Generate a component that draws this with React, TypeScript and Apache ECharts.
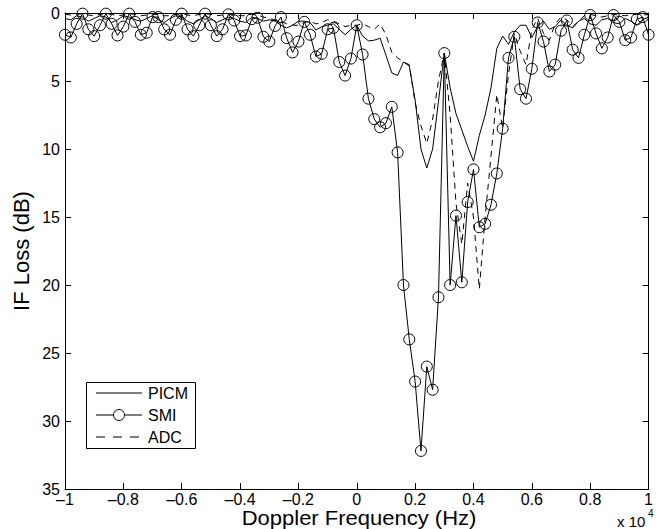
import React, { useEffect, useRef } from "react";
import * as echarts from "echarts";

const freqs = [
  -10000, -9800, -9600, -9400, -9200, -9000, -8800, -8600, -8400, -8200,
  -8000, -7800, -7600, -7400, -7200, -7000, -6800, -6600, -6400, -6200,
  -6000, -5800, -5600, -5400, -5200, -5000, -4800, -4600, -4400, -4200,
  -4000, -3800, -3600, -3400, -3200, -3000, -2800, -2600, -2400, -2200,
  -2000, -1800, -1600, -1400, -1200, -1000, -800, -600, -400, -200,
  0, 200, 400, 600, 800, 1000, 1200, 1400, 1600, 1800,
  2000, 2200, 2400, 2600, 2800, 3000, 3200, 3400, 3600, 3800,
  4000, 4200, 4400, 4600, 4800, 5000, 5200, 5400, 5600, 5800,
  6000, 6200, 6400, 6600, 6800, 7000, 7200, 7400, 7600, 7800,
  8000, 8200, 8400, 8600, 8800, 9000, 9200, 9400, 9600, 9800,
  10000,
];

const picm = [
  0.4, 0.5, 0.2, 0.3, 0.6, 0.4, 0.2, 0.3, 0.7, 0.5,
  0.2, 0.3, 0.5, 0.6, 0.4, 0.2, 0.5, 0.7, 0.4, 0.2,
  0.3, 0.6, 0.8, 0.5, 0.2, 0.4, 0.7, 0.5, 0.3, 0.4,
  0.6, 0.7, 0.3, 0.4, 0.6, 0.5, 0.6, 0.9, 1.1, 0.9,
  0.6, 0.6, 0.7, 1.25, 1.0, 0.9, 0.8, 1.2, 1.6, 1.2,
  0.9, 1.7, 2.05, 2.0, 1.85, 3.1, 4.4, 4.6, 3.6, 3.9,
  6.4, 10.0, 11.4, 10.0, 6.5, 2.95, 5.5, 7.4, 8.6, 9.8,
  10.9, 9.0, 7.5, 5.5, 2.6, 1.7, 2.3, 1.4, 0.9, 0.9,
  1.8, 1.0, 0.6, 1.2, 1.0, 0.5, 0.9, 1.1, 0.6, 0.4,
  0.8, 0.9, 0.5, 0.4, 0.7, 0.8, 0.4, 0.6, 0.9, 0.5,
  0.3,
];

const smi = [
  1.6, 1.8, 0.8, 0.05, 1.2, 1.7, 0.9, 0.05, 0.8, 1.65,
  1.0, 0.05, 0.65, 1.6, 1.45, 0.3, 0.3, 1.2, 1.6, 0.5,
  0.05, 1.2, 1.7, 0.9, 0.05, 0.9, 1.7, 1.2, 0.1, 0.55,
  1.7, 1.65, 0.45, 0.35, 1.75, 2.1, 0.95, 0.3, 1.85, 2.9,
  2.1, 0.65, 1.6, 3.2, 3.0, 1.2, 1.1, 3.6, 4.6, 3.35,
  0.9, 3.05, 6.3, 7.8, 8.4, 8.1, 6.9, 10.25, 20.0, 24.0,
  27.1, 32.2, 26.0, 27.7, 20.9, 2.95, 20.0, 14.9, 19.8, 13.9,
  11.5, 15.75, 15.5, 14.1, 11.8, 8.5, 3.3, 1.75, 5.6, 6.3,
  4.1, 0.7, 2.1, 4.3, 3.8, 1.3, 0.55, 2.7, 3.3, 1.6,
  0.15, 1.5, 2.6, 1.8, 0.15, 0.65, 2.0, 1.8, 0.45, 0.3,
  1.6,
];

const adc = [
  0.1, 0.15, 0.1, 0.05, 0.15, 0.2, 0.1, 0.05, 0.1, 0.2,
  0.15, 0.05, 0.1, 0.2, 0.15, 0.1, 0.1, 0.2, 0.2, 0.1,
  0.05, 0.15, 0.2, 0.1, 0.05, 0.1, 0.2, 0.15, 0.1, 0.1,
  0.2, 0.2, 0.1, 0.15, 0.3, 0.4, 0.5, 0.6, 0.8, 0.9,
  0.9, 0.7, 0.6, 0.8, 0.7, 0.5, 0.6, 0.8, 1.0, 0.9,
  0.9, 0.8, 1.0, 1.2, 0.8, 1.6, 2.9, 3.3, 3.6, 3.8,
  6.6, 8.3, 9.6, 7.8, 5.0, 2.95, 7.5, 14.0, 17.0, 12.5,
  15.0, 20.3, 15.0, 10.5, 6.0, 8.5, 4.5, 1.5, 2.8, 3.8,
  1.2, 0.4, 1.5, 2.0, 0.8, 0.3, 0.5, 1.0, 0.6, 0.2,
  0.1, 0.2, 0.3, 0.2, 0.1, 0.15, 0.2, 0.1, 0.1, 0.15,
  0.1,
];

const seriesNames = ["PICM", "SMI", "ADC"];
const xTitle = "Doppler Frequency (Hz)";
const yTitle = "IF Loss (dB)";

const FONT = "'Liberation Sans', Arial, Helvetica, sans-serif";
const PLOT_DASH = [6, 5];
const LEGEND_DASH = [9, 8];

function fmtX(v: number): string {
  if (v === 0) return "0";
  const s = String(Math.round((Math.abs(v) / 10000) * 10) / 10);
  return (v < 0 ? "\u2013" : "") + s;
}

export default function App() {
  const ref = useRef<HTMLDivElement>(null);
  useEffect(() => {
    const chart = echarts.init(ref.current!, null, { renderer: "svg" });
    const pairs = (arr: number[]) => freqs.map((f, i) => [f, arr[i]]);
    const xBase = {
      type: "value",
      min: -10000,
      max: 10000,
      interval: 2000,
      splitLine: { show: false },
      axisLine: { show: true, onZero: false, lineStyle: { color: "#000", width: 1 } },
      axisTick: { show: true, inside: true, length: 6, lineStyle: { color: "#000" } },
    };
    const yBase = {
      type: "value",
      inverse: true,
      min: 0,
      max: 35,
      interval: 5,
      splitLine: { show: false },
      axisLine: { show: true, onZero: false, lineStyle: { color: "#000", width: 1 } },
      axisTick: { show: true, inside: true, length: 6, lineStyle: { color: "#000" } },
    };

    const lx0 = 96;
    const lx1 = 142;
    const rows = [393, 415, 437];
    const legendItems: any[] = [
      {
        type: "rect",
        shape: { x: 86.5, y: 382.5, width: 109, height: 66 },
        style: { fill: "#fff", stroke: "#000", lineWidth: 1 },
      },
      {
        type: "line",
        shape: { x1: lx0, y1: rows[0], x2: lx1, y2: rows[0] },
        style: { stroke: "#000", lineWidth: 1 },
      },
      {
        type: "line",
        shape: { x1: lx0, y1: rows[1], x2: lx1, y2: rows[1] },
        style: { stroke: "#000", lineWidth: 1 },
      },
      {
        type: "circle",
        shape: { cx: (lx0 + lx1) / 2, cy: rows[1], r: 5.5 },
        style: { fill: "#fff", stroke: "#000", lineWidth: 1 },
      },
      {
        type: "line",
        shape: { x1: lx0, y1: rows[2], x2: lx1, y2: rows[2] },
        style: { stroke: "#000", lineWidth: 1, lineDash: LEGEND_DASH },
      },
    ];
    seriesNames.forEach((n, i) => {
      legendItems.push({
        type: "text",
        x: 148,
        y: rows[i],
        style: {
          text: n,
          font: "16px " + FONT,
          fill: "#000",
          verticalAlign: "middle",
        },
      });
    });

    chart.setOption({
      animation: false,
      backgroundColor: "#fff",
      grid: { left: 65, right: 3, top: 13, bottom: 40, containLabel: false },
      xAxis: [
        {
          ...xBase,
          position: "bottom",
          axisLabel: {
            formatter: fmtX,
            fontFamily: FONT,
            fontSize: 16,
            lineHeight: 14,
            color: "#000",
            margin: 3,
          },
        },
        { ...xBase, position: "top", axisLabel: { show: false } },
      ],
      yAxis: [
        {
          ...yBase,
          position: "left",
          axisLabel: { fontFamily: FONT, fontSize: 16, color: "#000", margin: 5 },
        },
        { ...yBase, position: "right", axisLabel: { show: false } },
      ],
      graphic: [
        {
          type: "text",
          x: 359,
          y: 518,
          scaleX: 1.1,
          style: {
            text: xTitle,
            font: "20px " + FONT,
            fill: "#000",
            align: "center",
            verticalAlign: "middle",
          },
        },
        {
          type: "text",
          x: 21,
          y: 251,
          rotation: Math.PI / 2,
          style: {
            text: yTitle,
            font: "22px " + FONT,
            fill: "#000",
            align: "center",
            verticalAlign: "middle",
          },
        },
        {
          type: "text",
          x: 617,
          y: 521,
          style: { text: "x 10", font: "15px " + FONT, fill: "#000", verticalAlign: "middle" },
        },
        {
          type: "text",
          x: 648,
          y: 513,
          style: { text: "4", font: "10px " + FONT, fill: "#000", verticalAlign: "middle" },
        },
        {
          type: "group",
          z: 100,
          children: legendItems,
        },
      ],
      series: [
        {
          name: seriesNames[0],
          type: "line",
          data: pairs(picm),
          symbol: "none",
          lineStyle: { color: "#000", width: 1 },
          itemStyle: { color: "#000" },
          z: 3,
        },
        {
          name: seriesNames[1],
          type: "line",
          data: pairs(smi),
          symbol: "circle",
          symbolSize: 11,
          showAllSymbol: true,
          lineStyle: { color: "#000", width: 1 },
          itemStyle: { color: "rgba(0,0,0,0)", borderColor: "#000", borderWidth: 1 },
          clip: false,
          z: 4,
        },
        {
          name: seriesNames[2],
          type: "line",
          data: pairs(adc),
          symbol: "none",
          lineStyle: { color: "#000", width: 1, type: PLOT_DASH },
          itemStyle: { color: "#000" },
          z: 2,
        },
      ],
    });
    return () => chart.dispose();
  }, []);
  return (
    <div
      ref={ref}
      style={{ position: "absolute", left: 0, top: 0, width: 656, height: 529 }}
    />
  );
}
